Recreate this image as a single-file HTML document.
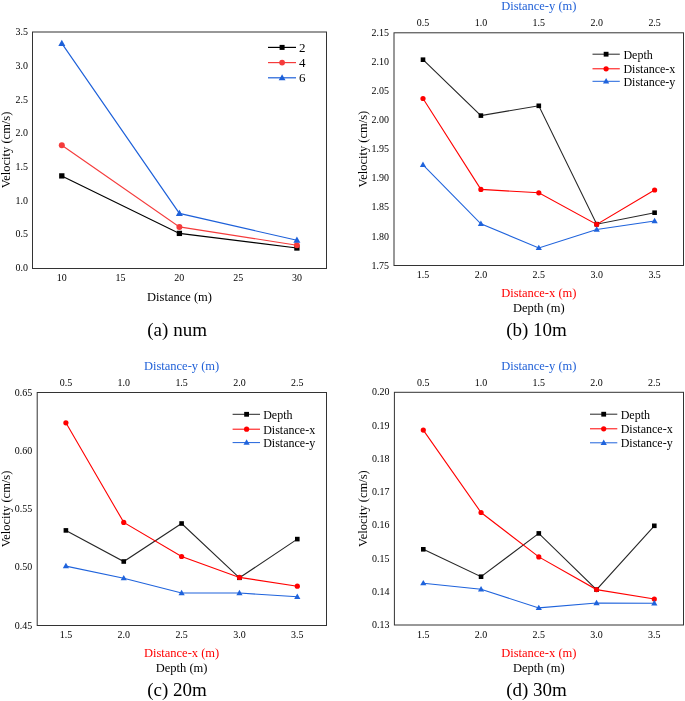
<!DOCTYPE html>
<html><head><meta charset="utf-8"><style>
html,body{margin:0;padding:0;background:#fff;}
body{width:685px;height:701px;overflow:hidden;}
svg{display:block;font-family:"Liberation Serif", serif;will-change:transform;}
</style></head><body>
<svg width="685" height="701" viewBox="0 0 685 701">
<rect width="685" height="701" fill="#fff"/>
<rect x="32.50" y="32.00" width="294.00" height="236.50" fill="none" stroke="#333" stroke-width="1.0"/>
<text transform="translate(28.00,271.10) scale(0.95,1)" font-size="10.5" text-anchor="end" fill="#000" >0.0</text>
<text transform="translate(28.00,237.38) scale(0.95,1)" font-size="10.5" text-anchor="end" fill="#000" >0.5</text>
<text transform="translate(28.00,203.67) scale(0.95,1)" font-size="10.5" text-anchor="end" fill="#000" >1.0</text>
<text transform="translate(28.00,169.95) scale(0.95,1)" font-size="10.5" text-anchor="end" fill="#000" >1.5</text>
<text transform="translate(28.00,136.24) scale(0.95,1)" font-size="10.5" text-anchor="end" fill="#000" >2.0</text>
<text transform="translate(28.00,102.52) scale(0.95,1)" font-size="10.5" text-anchor="end" fill="#000" >2.5</text>
<text transform="translate(28.00,68.81) scale(0.95,1)" font-size="10.5" text-anchor="end" fill="#000" >3.0</text>
<text transform="translate(28.00,35.09) scale(0.95,1)" font-size="10.5" text-anchor="end" fill="#000" >3.5</text>
<text transform="translate(61.80,280.90) scale(0.95,1)" font-size="10.5" text-anchor="middle" fill="#000" >10</text>
<text transform="translate(120.58,280.90) scale(0.95,1)" font-size="10.5" text-anchor="middle" fill="#000" >15</text>
<text transform="translate(179.35,280.90) scale(0.95,1)" font-size="10.5" text-anchor="middle" fill="#000" >20</text>
<text transform="translate(238.12,280.90) scale(0.95,1)" font-size="10.5" text-anchor="middle" fill="#000" >25</text>
<text transform="translate(296.90,280.90) scale(0.95,1)" font-size="10.5" text-anchor="middle" fill="#000" >30</text>
<text x="179.50" y="300.80" font-size="12.5" text-anchor="middle" fill="#000" >Distance (m)</text>
<text transform="translate(9.6,150.0) rotate(-90)" font-size="12.5" text-anchor="middle">Velocity (cm/s)</text>
<text transform="translate(177.10,335.70) scale(0.975,1)" font-size="19.5" text-anchor="middle" fill="#000" >(a) num</text>
<polyline points="61.80,175.90 179.40,233.40 296.90,248.00" fill="none" stroke="#000" stroke-width="1.15" stroke-linejoin="miter"/>
<rect x="59.15" y="173.25" width="5.3" height="5.3" fill="#000"/>
<rect x="176.75" y="230.75" width="5.3" height="5.3" fill="#000"/>
<rect x="294.25" y="245.35" width="5.3" height="5.3" fill="#000"/>
<polyline points="61.80,145.30 179.40,226.90 296.90,245.20" fill="none" stroke="#f53b3b" stroke-width="1.15" stroke-linejoin="miter"/>
<circle cx="61.80" cy="145.30" r="3.0" fill="#f53b3b"/>
<circle cx="179.40" cy="226.90" r="3.0" fill="#f53b3b"/>
<circle cx="296.90" cy="245.20" r="3.0" fill="#f53b3b"/>
<polyline points="61.80,43.40 179.40,213.40 296.90,240.30" fill="none" stroke="#1d60d9" stroke-width="1.15" stroke-linejoin="miter"/>
<path d="M61.80 39.68L65.30 45.88L58.30 45.88Z" fill="#1d60d9"/>
<path d="M179.40 209.68L182.90 215.88L175.90 215.88Z" fill="#1d60d9"/>
<path d="M296.90 236.58L300.40 242.78L293.40 242.78Z" fill="#1d60d9"/>
<line x1="268" y1="47.40" x2="296" y2="47.40" stroke="#000" stroke-width="1.2"/>
<rect x="279.60" y="44.90" width="5" height="5" fill="#000"/>
<text x="298.90" y="51.90" font-size="13" text-anchor="start" fill="#000" >2</text>
<line x1="268" y1="62.60" x2="296" y2="62.60" stroke="#f53b3b" stroke-width="1.2"/>
<circle cx="282.10" cy="62.60" r="2.9" fill="#f53b3b"/>
<text x="298.90" y="67.10" font-size="13" text-anchor="start" fill="#000" >4</text>
<line x1="268" y1="77.80" x2="296" y2="77.80" stroke="#1d60d9" stroke-width="1.2"/>
<path d="M282.10 74.26L285.50 80.16L278.70 80.16Z" fill="#1d60d9"/>
<text x="298.90" y="82.30" font-size="13" text-anchor="start" fill="#000" >6</text>
<rect x="394.00" y="32.80" width="289.50" height="232.70" fill="none" stroke="#333" stroke-width="1.0"/>
<text transform="translate(389.00,268.60) scale(0.95,1)" font-size="10.5" text-anchor="end" fill="#000" >1.75</text>
<text transform="translate(389.00,239.51) scale(0.95,1)" font-size="10.5" text-anchor="end" fill="#000" >1.80</text>
<text transform="translate(389.00,210.42) scale(0.95,1)" font-size="10.5" text-anchor="end" fill="#000" >1.85</text>
<text transform="translate(389.00,181.34) scale(0.95,1)" font-size="10.5" text-anchor="end" fill="#000" >1.90</text>
<text transform="translate(389.00,152.25) scale(0.95,1)" font-size="10.5" text-anchor="end" fill="#000" >1.95</text>
<text transform="translate(389.00,123.16) scale(0.95,1)" font-size="10.5" text-anchor="end" fill="#000" >2.00</text>
<text transform="translate(389.00,94.08) scale(0.95,1)" font-size="10.5" text-anchor="end" fill="#000" >2.05</text>
<text transform="translate(389.00,64.99) scale(0.95,1)" font-size="10.5" text-anchor="end" fill="#000" >2.10</text>
<text transform="translate(389.00,35.90) scale(0.95,1)" font-size="10.5" text-anchor="end" fill="#000" >2.15</text>
<text transform="translate(423.00,277.90) scale(0.95,1)" font-size="10.5" text-anchor="middle" fill="#000" >1.5</text>
<text transform="translate(423.00,25.60) scale(0.95,1)" font-size="10.5" text-anchor="middle" fill="#000" >0.5</text>
<text transform="translate(480.90,277.90) scale(0.95,1)" font-size="10.5" text-anchor="middle" fill="#000" >2.0</text>
<text transform="translate(480.90,25.60) scale(0.95,1)" font-size="10.5" text-anchor="middle" fill="#000" >1.0</text>
<text transform="translate(538.80,277.90) scale(0.95,1)" font-size="10.5" text-anchor="middle" fill="#000" >2.5</text>
<text transform="translate(538.80,25.60) scale(0.95,1)" font-size="10.5" text-anchor="middle" fill="#000" >1.5</text>
<text transform="translate(596.70,277.90) scale(0.95,1)" font-size="10.5" text-anchor="middle" fill="#000" >3.0</text>
<text transform="translate(596.70,25.60) scale(0.95,1)" font-size="10.5" text-anchor="middle" fill="#000" >2.0</text>
<text transform="translate(654.60,277.90) scale(0.95,1)" font-size="10.5" text-anchor="middle" fill="#000" >3.5</text>
<text transform="translate(654.60,25.60) scale(0.95,1)" font-size="10.5" text-anchor="middle" fill="#000" >2.5</text>
<text x="538.80" y="9.60" font-size="12.5" text-anchor="middle" fill="#2262d8" >Distance-y (m)</text>
<text x="538.80" y="297.20" font-size="12.5" text-anchor="middle" fill="#ff0000" >Distance-x (m)</text>
<text x="538.80" y="312.00" font-size="12.5" text-anchor="middle" fill="#000" >Depth (m)</text>
<text transform="translate(536.50,335.90) scale(0.975,1)" font-size="19.5" text-anchor="middle" fill="#000" >(b) 10m</text>
<text transform="translate(366.80,149.15) rotate(-90)" font-size="12.5" text-anchor="middle">Velocity (cm/s)</text>
<polyline points="423.00,59.70 480.90,115.60 538.80,105.80 596.70,224.20 654.60,212.70" fill="none" stroke="#262626" stroke-width="1.1" stroke-linejoin="miter"/>
<rect x="420.70" y="57.40" width="4.6" height="4.6" fill="#000"/>
<rect x="478.60" y="113.30" width="4.6" height="4.6" fill="#000"/>
<rect x="536.50" y="103.50" width="4.6" height="4.6" fill="#000"/>
<rect x="594.40" y="221.90" width="4.6" height="4.6" fill="#000"/>
<rect x="652.30" y="210.40" width="4.6" height="4.6" fill="#000"/>
<polyline points="423.00,98.50 480.90,189.40 538.80,192.80 596.70,224.40 654.60,190.00" fill="none" stroke="#ff0000" stroke-width="1.1" stroke-linejoin="miter"/>
<circle cx="423.00" cy="98.50" r="2.6" fill="#ff0000"/>
<circle cx="480.90" cy="189.40" r="2.6" fill="#ff0000"/>
<circle cx="538.80" cy="192.80" r="2.6" fill="#ff0000"/>
<circle cx="596.70" cy="224.40" r="2.6" fill="#ff0000"/>
<circle cx="654.60" cy="190.00" r="2.6" fill="#ff0000"/>
<polyline points="423.00,164.80 480.90,223.80 538.80,247.90 596.70,229.50 654.60,221.00" fill="none" stroke="#1f63dc" stroke-width="1.1" stroke-linejoin="miter"/>
<path d="M423.00 161.56L426.10 166.96L419.90 166.96Z" fill="#1f63dc"/>
<path d="M480.90 220.56L484.00 225.96L477.80 225.96Z" fill="#1f63dc"/>
<path d="M538.80 244.66L541.90 250.06L535.70 250.06Z" fill="#1f63dc"/>
<path d="M596.70 226.26L599.80 231.66L593.60 231.66Z" fill="#1f63dc"/>
<path d="M654.60 217.76L657.70 223.16L651.50 223.16Z" fill="#1f63dc"/>
<line x1="592.50" y1="54.20" x2="619.80" y2="54.20" stroke="#262626" stroke-width="1.0"/>
<rect x="603.70" y="51.80" width="4.8" height="4.8" fill="#000"/>
<text x="623.40" y="58.50" font-size="12" text-anchor="start" fill="#000" >Depth</text>
<line x1="592.50" y1="68.80" x2="619.80" y2="68.80" stroke="#ff0000" stroke-width="1.0"/>
<circle cx="606.10" cy="68.80" r="2.6" fill="#ff0000"/>
<text x="623.40" y="73.10" font-size="12" text-anchor="start" fill="#000" >Distance-x</text>
<line x1="592.50" y1="81.30" x2="619.80" y2="81.30" stroke="#1f63dc" stroke-width="1.0"/>
<path d="M606.10 78.06L609.20 83.46L603.00 83.46Z" fill="#1f63dc"/>
<text x="623.40" y="85.60" font-size="12" text-anchor="start" fill="#000" >Distance-y</text>
<rect x="37.20" y="392.50" width="289.30" height="233.00" fill="none" stroke="#333" stroke-width="1.0"/>
<text transform="translate(32.20,628.60) scale(0.95,1)" font-size="10.5" text-anchor="end" fill="#000" >0.45</text>
<text transform="translate(32.20,570.35) scale(0.95,1)" font-size="10.5" text-anchor="end" fill="#000" >0.50</text>
<text transform="translate(32.20,512.10) scale(0.95,1)" font-size="10.5" text-anchor="end" fill="#000" >0.55</text>
<text transform="translate(32.20,453.85) scale(0.95,1)" font-size="10.5" text-anchor="end" fill="#000" >0.60</text>
<text transform="translate(32.20,395.60) scale(0.95,1)" font-size="10.5" text-anchor="end" fill="#000" >0.65</text>
<text transform="translate(65.90,637.90) scale(0.95,1)" font-size="10.5" text-anchor="middle" fill="#000" >1.5</text>
<text transform="translate(65.90,385.60) scale(0.95,1)" font-size="10.5" text-anchor="middle" fill="#000" >0.5</text>
<text transform="translate(123.75,637.90) scale(0.95,1)" font-size="10.5" text-anchor="middle" fill="#000" >2.0</text>
<text transform="translate(123.75,385.60) scale(0.95,1)" font-size="10.5" text-anchor="middle" fill="#000" >1.0</text>
<text transform="translate(181.60,637.90) scale(0.95,1)" font-size="10.5" text-anchor="middle" fill="#000" >2.5</text>
<text transform="translate(181.60,385.60) scale(0.95,1)" font-size="10.5" text-anchor="middle" fill="#000" >1.5</text>
<text transform="translate(239.45,637.90) scale(0.95,1)" font-size="10.5" text-anchor="middle" fill="#000" >3.0</text>
<text transform="translate(239.45,385.60) scale(0.95,1)" font-size="10.5" text-anchor="middle" fill="#000" >2.0</text>
<text transform="translate(297.30,637.90) scale(0.95,1)" font-size="10.5" text-anchor="middle" fill="#000" >3.5</text>
<text transform="translate(297.30,385.60) scale(0.95,1)" font-size="10.5" text-anchor="middle" fill="#000" >2.5</text>
<text x="181.60" y="369.60" font-size="12.5" text-anchor="middle" fill="#2262d8" >Distance-y (m)</text>
<text x="181.60" y="657.20" font-size="12.5" text-anchor="middle" fill="#ff0000" >Distance-x (m)</text>
<text x="181.60" y="672.00" font-size="12.5" text-anchor="middle" fill="#000" >Depth (m)</text>
<text transform="translate(177.00,695.90) scale(0.975,1)" font-size="19.5" text-anchor="middle" fill="#000" >(c) 20m</text>
<text transform="translate(9.90,509.00) rotate(-90)" font-size="12.5" text-anchor="middle">Velocity (cm/s)</text>
<polyline points="65.90,530.40 123.75,561.50 181.60,523.50 239.45,577.80 297.30,539.10" fill="none" stroke="#262626" stroke-width="1.1" stroke-linejoin="miter"/>
<rect x="63.60" y="528.10" width="4.6" height="4.6" fill="#000"/>
<rect x="121.45" y="559.20" width="4.6" height="4.6" fill="#000"/>
<rect x="179.30" y="521.20" width="4.6" height="4.6" fill="#000"/>
<rect x="237.15" y="575.50" width="4.6" height="4.6" fill="#000"/>
<rect x="295.00" y="536.80" width="4.6" height="4.6" fill="#000"/>
<polyline points="65.90,422.80 123.75,522.40 181.60,556.50 239.45,577.40 297.30,586.20" fill="none" stroke="#ff0000" stroke-width="1.1" stroke-linejoin="miter"/>
<circle cx="65.90" cy="422.80" r="2.6" fill="#ff0000"/>
<circle cx="123.75" cy="522.40" r="2.6" fill="#ff0000"/>
<circle cx="181.60" cy="556.50" r="2.6" fill="#ff0000"/>
<circle cx="239.45" cy="577.40" r="2.6" fill="#ff0000"/>
<circle cx="297.30" cy="586.20" r="2.6" fill="#ff0000"/>
<polyline points="65.90,566.10 123.75,578.20 181.60,593.00 239.45,593.00 297.30,596.80" fill="none" stroke="#1f63dc" stroke-width="1.1" stroke-linejoin="miter"/>
<path d="M65.90 562.86L69.00 568.26L62.80 568.26Z" fill="#1f63dc"/>
<path d="M123.75 574.96L126.85 580.36L120.65 580.36Z" fill="#1f63dc"/>
<path d="M181.60 589.76L184.70 595.16L178.50 595.16Z" fill="#1f63dc"/>
<path d="M239.45 589.76L242.55 595.16L236.35 595.16Z" fill="#1f63dc"/>
<path d="M297.30 593.56L300.40 598.96L294.20 598.96Z" fill="#1f63dc"/>
<line x1="232.60" y1="414.30" x2="260.00" y2="414.30" stroke="#262626" stroke-width="1.0"/>
<rect x="244.20" y="411.90" width="4.8" height="4.8" fill="#000"/>
<text x="263.20" y="418.60" font-size="12" text-anchor="start" fill="#000" >Depth</text>
<line x1="232.60" y1="429.20" x2="260.00" y2="429.20" stroke="#ff0000" stroke-width="1.0"/>
<circle cx="246.60" cy="429.20" r="2.6" fill="#ff0000"/>
<text x="263.20" y="433.50" font-size="12" text-anchor="start" fill="#000" >Distance-x</text>
<line x1="232.60" y1="442.60" x2="260.00" y2="442.60" stroke="#1f63dc" stroke-width="1.0"/>
<path d="M246.60 439.36L249.70 444.76L243.50 444.76Z" fill="#1f63dc"/>
<text x="263.20" y="446.90" font-size="12" text-anchor="start" fill="#000" >Distance-y</text>
<rect x="394.40" y="392.30" width="289.10" height="232.70" fill="none" stroke="#333" stroke-width="1.0"/>
<text transform="translate(389.40,628.10) scale(0.95,1)" font-size="10.5" text-anchor="end" fill="#000" >0.13</text>
<text transform="translate(389.40,594.86) scale(0.95,1)" font-size="10.5" text-anchor="end" fill="#000" >0.14</text>
<text transform="translate(389.40,561.61) scale(0.95,1)" font-size="10.5" text-anchor="end" fill="#000" >0.15</text>
<text transform="translate(389.40,528.37) scale(0.95,1)" font-size="10.5" text-anchor="end" fill="#000" >0.16</text>
<text transform="translate(389.40,495.13) scale(0.95,1)" font-size="10.5" text-anchor="end" fill="#000" >0.17</text>
<text transform="translate(389.40,461.89) scale(0.95,1)" font-size="10.5" text-anchor="end" fill="#000" >0.18</text>
<text transform="translate(389.40,428.64) scale(0.95,1)" font-size="10.5" text-anchor="end" fill="#000" >0.19</text>
<text transform="translate(389.40,395.40) scale(0.95,1)" font-size="10.5" text-anchor="end" fill="#000" >0.20</text>
<text transform="translate(423.30,637.90) scale(0.95,1)" font-size="10.5" text-anchor="middle" fill="#000" >1.5</text>
<text transform="translate(423.30,385.60) scale(0.95,1)" font-size="10.5" text-anchor="middle" fill="#000" >0.5</text>
<text transform="translate(481.05,637.90) scale(0.95,1)" font-size="10.5" text-anchor="middle" fill="#000" >2.0</text>
<text transform="translate(481.05,385.60) scale(0.95,1)" font-size="10.5" text-anchor="middle" fill="#000" >1.0</text>
<text transform="translate(538.80,637.90) scale(0.95,1)" font-size="10.5" text-anchor="middle" fill="#000" >2.5</text>
<text transform="translate(538.80,385.60) scale(0.95,1)" font-size="10.5" text-anchor="middle" fill="#000" >1.5</text>
<text transform="translate(596.55,637.90) scale(0.95,1)" font-size="10.5" text-anchor="middle" fill="#000" >3.0</text>
<text transform="translate(596.55,385.60) scale(0.95,1)" font-size="10.5" text-anchor="middle" fill="#000" >2.0</text>
<text transform="translate(654.30,637.90) scale(0.95,1)" font-size="10.5" text-anchor="middle" fill="#000" >3.5</text>
<text transform="translate(654.30,385.60) scale(0.95,1)" font-size="10.5" text-anchor="middle" fill="#000" >2.5</text>
<text x="538.80" y="369.60" font-size="12.5" text-anchor="middle" fill="#2262d8" >Distance-y (m)</text>
<text x="538.80" y="657.20" font-size="12.5" text-anchor="middle" fill="#ff0000" >Distance-x (m)</text>
<text x="538.80" y="672.00" font-size="12.5" text-anchor="middle" fill="#000" >Depth (m)</text>
<text transform="translate(536.50,695.90) scale(0.975,1)" font-size="19.5" text-anchor="middle" fill="#000" >(d) 30m</text>
<text transform="translate(366.60,508.65) rotate(-90)" font-size="12.5" text-anchor="middle">Velocity (cm/s)</text>
<polyline points="423.30,549.30 481.05,576.70 538.80,533.40 596.55,589.60 654.30,525.80" fill="none" stroke="#262626" stroke-width="1.1" stroke-linejoin="miter"/>
<rect x="421.00" y="547.00" width="4.6" height="4.6" fill="#000"/>
<rect x="478.75" y="574.40" width="4.6" height="4.6" fill="#000"/>
<rect x="536.50" y="531.10" width="4.6" height="4.6" fill="#000"/>
<rect x="594.25" y="587.30" width="4.6" height="4.6" fill="#000"/>
<rect x="652.00" y="523.50" width="4.6" height="4.6" fill="#000"/>
<polyline points="423.30,430.10 481.05,512.50 538.80,556.90 596.55,589.60 654.30,599.00" fill="none" stroke="#ff0000" stroke-width="1.1" stroke-linejoin="miter"/>
<circle cx="423.30" cy="430.10" r="2.6" fill="#ff0000"/>
<circle cx="481.05" cy="512.50" r="2.6" fill="#ff0000"/>
<circle cx="538.80" cy="556.90" r="2.6" fill="#ff0000"/>
<circle cx="596.55" cy="589.60" r="2.6" fill="#ff0000"/>
<circle cx="654.30" cy="599.00" r="2.6" fill="#ff0000"/>
<polyline points="423.30,583.20 481.05,589.30 538.80,607.90 596.55,603.00 654.30,603.30" fill="none" stroke="#1f63dc" stroke-width="1.1" stroke-linejoin="miter"/>
<path d="M423.30 579.96L426.40 585.36L420.20 585.36Z" fill="#1f63dc"/>
<path d="M481.05 586.06L484.15 591.46L477.95 591.46Z" fill="#1f63dc"/>
<path d="M538.80 604.66L541.90 610.06L535.70 610.06Z" fill="#1f63dc"/>
<path d="M596.55 599.76L599.65 605.16L593.45 605.16Z" fill="#1f63dc"/>
<path d="M654.30 600.06L657.40 605.46L651.20 605.46Z" fill="#1f63dc"/>
<line x1="590.00" y1="414.20" x2="617.30" y2="414.20" stroke="#262626" stroke-width="1.0"/>
<rect x="601.30" y="411.80" width="4.8" height="4.8" fill="#000"/>
<text x="620.70" y="418.50" font-size="12" text-anchor="start" fill="#000" >Depth</text>
<line x1="590.00" y1="428.80" x2="617.30" y2="428.80" stroke="#ff0000" stroke-width="1.0"/>
<circle cx="603.70" cy="428.80" r="2.6" fill="#ff0000"/>
<text x="620.70" y="433.10" font-size="12" text-anchor="start" fill="#000" >Distance-x</text>
<line x1="590.00" y1="442.80" x2="617.30" y2="442.80" stroke="#1f63dc" stroke-width="1.0"/>
<path d="M603.70 439.56L606.80 444.96L600.60 444.96Z" fill="#1f63dc"/>
<text x="620.70" y="447.10" font-size="12" text-anchor="start" fill="#000" >Distance-y</text>
</svg>
</body></html>
